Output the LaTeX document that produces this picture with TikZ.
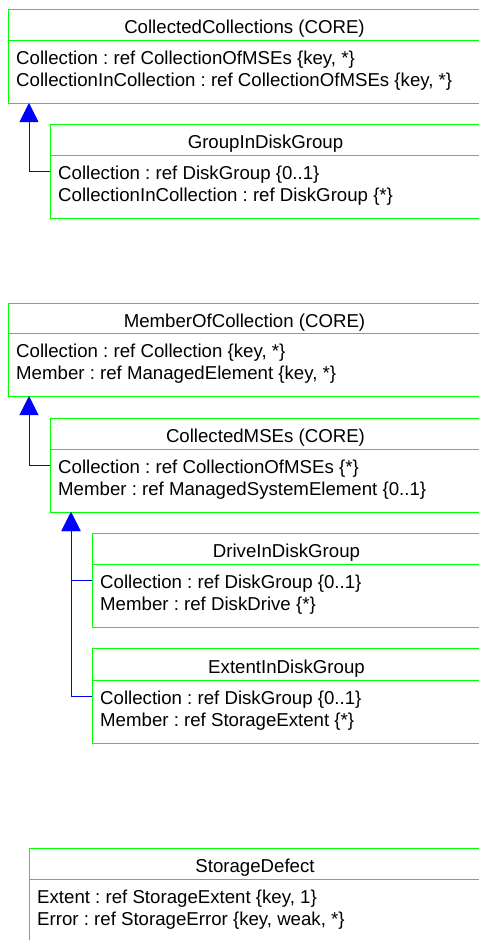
\documentclass[tikz,border=0pt]{standalone}
\usepackage{fontspec}
\setmainfont{Liberation Sans}
\usetikzlibrary{arrows.meta}
\definecolor{boxgreen}{RGB}{0,255,0}
\definecolor{inhblue}{RGB}{0,0,255}
\frenchspacing
\begin{document}
\begin{tikzpicture}[x=1pt,y=-1pt,
  font=\fontsize{18.65}{21.7}\selectfont,
  umlbox/.style={draw=boxgreen, line width=1pt, anchor=north west, inner sep=0pt, outer sep=0pt},
  sepline/.style={draw=boxgreen, line width=1pt},
  ttl/.style={anchor=base, inner sep=0pt, text=black},
  attr/.style={anchor=base west, inner sep=0pt, text=black},
  inh/.style={draw=inhblue, line width=1pt, -{Triangle[width=19pt,length=19pt]}}]
\useasboundingbox (0,0) rectangle (479,940);
\fill[white] (0,0) rectangle (479,940);

% CollectedCollections
\node[umlbox, minimum width=473pt, minimum height=94pt] (b1) at (8,9) {};
\draw[sepline] ([yshift=-31pt]b1.north west) -- ([yshift=-31pt]b1.north east);
\node[ttl] (b1t) at ([yshift=-24.5pt]b1.north) {CollectedCollections (CORE)};
\node[attr] (b1a) at ([xshift=8pt,yshift=-55pt]b1.north west) {Collection : ref CollectionOfMSEs \{key, *\}};
\node[attr] (b1b) at ([xshift=8pt,yshift=-77pt]b1.north west) {CollectionInCollection : ref CollectionOfMSEs \{key, *\}};

% GroupInDiskGroup
\node[umlbox, minimum width=431pt, minimum height=94pt] (b2) at (50,124) {};
\draw[sepline] ([yshift=-31pt]b2.north west) -- ([yshift=-31pt]b2.north east);
\node[ttl] (b2t) at ([yshift=-24.5pt]b2.north) {GroupInDiskGroup};
\node[attr] (b2a) at ([xshift=8pt,yshift=-55pt]b2.north west) {Collection : ref DiskGroup \{0..1\}};
\node[attr] (b2b) at ([xshift=8pt,yshift=-77pt]b2.north west) {CollectionInCollection : ref DiskGroup \{*\}};

% MemberOfCollection
\node[umlbox, minimum width=473pt, minimum height=93pt] (b3) at (8,303) {};
\draw[sepline] ([yshift=-30pt]b3.north west) -- ([yshift=-30pt]b3.north east);
\node[ttl] (b3t) at ([yshift=-24pt]b3.north) {MemberOfCollection (CORE)};
\node[attr] (b3a) at ([xshift=8pt,yshift=-54pt]b3.north west) {Collection : ref Collection \{key, *\}};
\node[attr] (b3b) at ([xshift=8pt,yshift=-76pt]b3.north west) {Member : ref ManagedElement \{key, *\}};

% CollectedMSEs
\node[umlbox, minimum width=431pt, minimum height=94pt] (b4) at (50,418) {};
\draw[sepline] ([yshift=-31pt]b4.north west) -- ([yshift=-31pt]b4.north east);
\node[ttl] (b4t) at ([yshift=-24.5pt]b4.north) {CollectedMSEs (CORE)};
\node[attr] (b4a) at ([xshift=8pt,yshift=-55pt]b4.north west) {Collection : ref CollectionOfMSEs \{*\}};
\node[attr] (b4b) at ([xshift=8pt,yshift=-77pt]b4.north west) {Member : ref ManagedSystemElement \{0..1\}};

% DriveInDiskGroup
\node[umlbox, minimum width=389pt, minimum height=94pt] (b5) at (92,533) {};
\draw[sepline] ([yshift=-31pt]b5.north west) -- ([yshift=-31pt]b5.north east);
\node[ttl] (b5t) at ([yshift=-24.5pt]b5.north) {DriveInDiskGroup};
\node[attr] (b5a) at ([xshift=8pt,yshift=-55pt]b5.north west) {Collection : ref DiskGroup \{0..1\}};
\node[attr] (b5b) at ([xshift=8pt,yshift=-77pt]b5.north west) {Member : ref DiskDrive \{*\}};

% ExtentInDiskGroup
\node[umlbox, minimum width=389pt, minimum height=95pt] (b6) at (92,648) {};
\draw[sepline] ([yshift=-32pt]b6.north west) -- ([yshift=-32pt]b6.north east);
\node[ttl] (b6t) at ([yshift=-25pt]b6.north) {ExtentInDiskGroup};
\node[attr] (b6a) at ([xshift=8pt,yshift=-56pt]b6.north west) {Collection : ref DiskGroup \{0..1\}};
\node[attr] (b6b) at ([xshift=8pt,yshift=-78pt]b6.north west) {Member : ref StorageExtent \{*\}};

% StorageDefect
\node[umlbox, minimum width=452pt, minimum height=110pt] (b7) at (29,848) {};
\draw[sepline] ([yshift=-31pt]b7.north west) -- ([yshift=-31pt]b7.north east);
\node[ttl] (b7t) at ([yshift=-24.5pt]b7.north) {StorageDefect};
\node[attr] (b7a) at ([xshift=8pt,yshift=-55pt]b7.north west) {Extent : ref StorageExtent \{key, 1\}};
\node[attr] (b7b) at ([xshift=8pt,yshift=-77pt]b7.north west) {Error : ref StorageError \{key, weak, *\}};

% inheritance connectors
\coordinate (t1) at ([xshift=21pt]b1.south west);
\coordinate (t3) at ([xshift=21pt]b3.south west);
\coordinate (t4) at ([xshift=21pt]b4.south west);
\draw[inh] ([yshift=-47pt]b2.north west) -| (t1);
\draw[inh] ([yshift=-47pt]b4.north west) -| (t3);
\draw[inh] ([yshift=-48pt]b6.north west) -| (t4);
\draw[inh] ([yshift=-47pt]b5.north west) -| (t4);
\end{tikzpicture}
\end{document}
